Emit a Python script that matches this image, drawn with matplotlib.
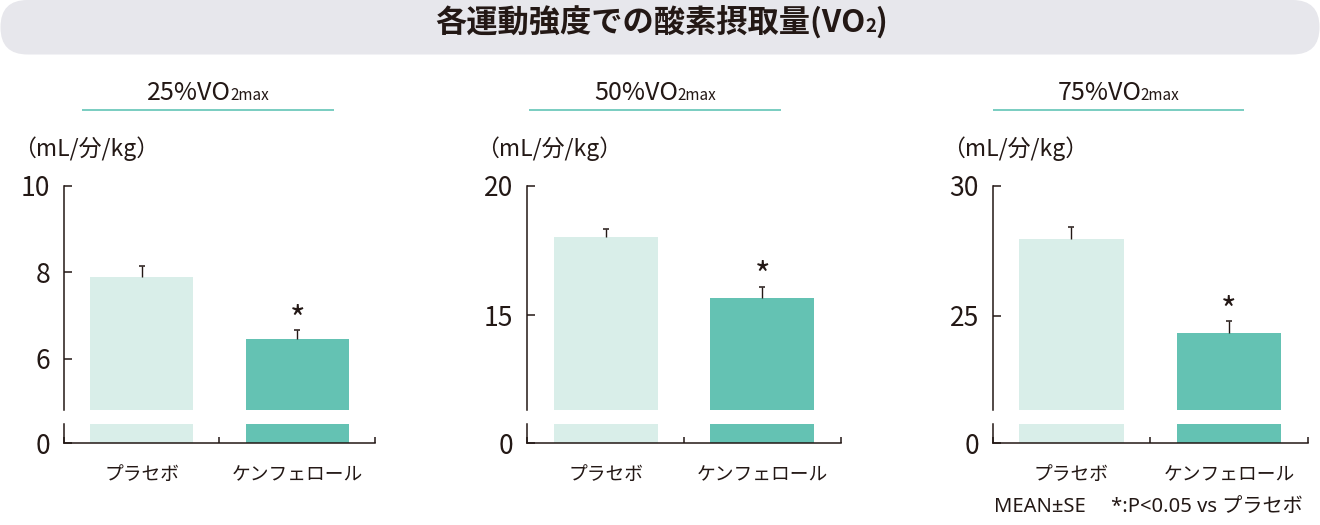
import matplotlib
matplotlib.use("Agg")
import matplotlib.pyplot as plt
from matplotlib.patches import FancyBboxPatch

plt.rcParams['font.family'] = ['Noto Sans CJK JP', 'DejaVu Sans']

# ---------------- data ----------------
title_main = "各運動強度での酸素摂取量(VO"
title_sub = "2"
title_end = ")"
panel_main = ["25%VO", "50%VO", "75%VO"]
panel_sub = "2max"
unit_label = "（mL/分/kg）"
categories = ["プラセボ", "ケンフェロール"]
means = [[7.88, 6.46], [18.02, 15.67], [27.95, 24.32]]
ses = [[0.25, 0.19], [0.30, 0.43], [0.45, 0.46]]
upper_ticks = [[6, 8, 10], [15, 20], [25, 30]]
upper_bottom = [4.82, 11.35, 21.38]
footnote = "MEAN±SE　 *:P<0.05 vs プラセボ"

# ---------------- style ----------------
W, H = 1320, 525
TXT = '#231815'
C_PLA = '#d9eee9'
C_KEN = '#64c2b3'
C_LINE = '#6ec9bc'
C_BANNER = '#e7e7ec'

fig = plt.figure(figsize=(W / 100, H / 100), dpi=100)

# overlay axes in pixel units (y from top)
ov = fig.add_axes([0, 0, 1, 1], zorder=0)
ov.set_xlim(0, W)
ov.set_ylim(H, 0)
ov.axis('off')

ov.add_patch(FancyBboxPatch((0.5, 0), W - 1, 54.5,
                            boxstyle="round,pad=0,rounding_size=27",
                            facecolor=C_BANNER, edgecolor='none'))

renderer = fig.canvas.get_renderer()


def rich_text(xc, ybase, parts, gap=-1.5):
    arts = []
    widths = []
    for s, size, weight in parts:
        t = ov.text(0, ybase, s, fontsize=size, fontweight=weight, color=TXT,
                    ha='left', va='baseline')
        arts.append(t)
        widths.append(t.get_window_extent(renderer).width)
    total = sum(widths) + gap * (len(parts) - 1)
    x = xc - total / 2
    for t, w in zip(arts, widths):
        t.set_x(round(x))
        x += w + gap


rich_text(661, 32, [(title_main, 22.5, 'bold'), (title_sub, 13.5, 'bold'),
                    (title_end, 22.5, 'bold')], gap=-0.5)

lefts = [64, 527.3, 992.7]
widths_ax = [311, 313.4, 315]
underlines = [(82, 334), (529, 781), (993, 1244)]
xs = [0.5, 1.5]

for i in range(3):
    L, Wd = lefts[i], widths_ax[i]
    # subtitle + underline
    u0, u1 = underlines[i]
    ov.plot([u0, u1], [110, 110], color=C_LINE, lw=1.3, solid_capstyle='butt')
    rich_text((u0 + u1) / 2, 100.5, [(panel_main[i], 18, 'normal'),
                                      (panel_sub, 11, 'normal')])
    ov.text(L + 22, 149, unit_label, fontsize=16.5, color=TXT,
            ha='center', va='center')

    up = fig.add_axes([L / W, 115.5 / H, Wd / W, 223.8 / H], zorder=1)
    lo = fig.add_axes([L / W, 81.7 / H, Wd / W, 19.1 / H], zorder=1)
    for ax in (up, lo):
        ax.set_facecolor('none')
        ax.bar(xs, means[i], width=0.664, color=[C_PLA, C_KEN],
               edgecolor='none', zorder=2)
        ax.set_xlim(0, 2)
        for s in ('top', 'right'):
            ax.spines[s].set_visible(False)
        for s in ('left', 'bottom'):
            ax.spines[s].set_color(TXT)
            ax.spines[s].set_linewidth(1.1)
        ax.tick_params(axis='y', direction='in', length=5.5, width=1.1,
                       color=TXT, labelcolor=TXT, labelsize=19, pad=10)
    # upper: one-sided error bars (mean -> mean + SE) with a top cap
    tops = [m + s for m, s in zip(means[i], ses[i])]
    up.errorbar(xs, means[i], yerr=[[0, 0], ses[i]], fmt='none',
                ecolor=TXT, elinewidth=1.0, capsize=0, zorder=3)
    up.plot(xs, tops, linestyle='none', marker='_', markersize=5,
            markeredgewidth=1.1, color=TXT, zorder=3)
    up.set_ylim(upper_bottom[i], upper_ticks[i][-1])
    up.set_yticks(upper_ticks[i])
    up.spines['bottom'].set_visible(False)
    up.set_xticks([])
    up.annotate('*', xy=(xs[1], tops[1]), xytext=(0, -0.5),
                textcoords='offset points', ha='center', va='baseline',
                fontsize=24, color=TXT)
    # lower
    lo.set_ylim(0, 1)
    lo.set_yticks([0])
    lo.set_xticks([0, 1, 2])
    lo.set_xticklabels([])
    lo.tick_params(axis='x', which='major', direction='in', length=4.5,
                   width=1.1, color=TXT)
    lo.set_xticks(xs, labels=categories, minor=True)
    lo.tick_params(axis='x', which='minor', length=0, pad=15, labelsize=13.5,
                   labelcolor=TXT)

ov.text(1303, 513, footnote, fontsize=14.5, color=TXT, ha='right',
        va='baseline', family=['Noto Sans', 'Noto Sans CJK JP', 'DejaVu Sans'])

fig.savefig('out.png', dpi=100)
